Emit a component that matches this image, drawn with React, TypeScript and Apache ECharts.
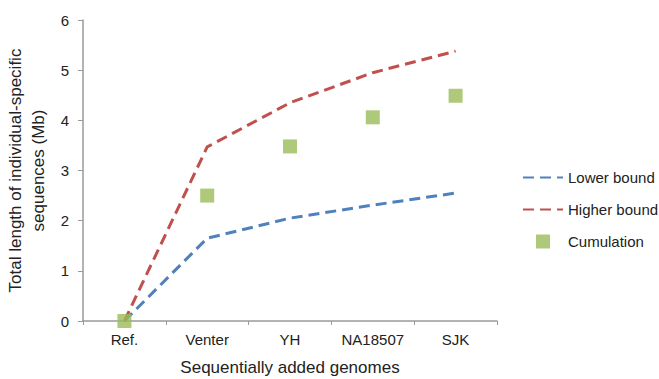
import React, { useEffect, useRef } from "react";
import * as echarts from "echarts";

const categories = ["Ref.", "Venter", "YH", "NA18507", "SJK"];
const lowerBound = [0, 1.65, 2.05, 2.31, 2.55];
const higherBound = [0, 3.47, 4.35, 4.95, 5.38];
const cumulation = [0, 2.5, 3.48, 4.06, 4.49];

const FONT = "'Liberation Sans', Arial, Helvetica, sans-serif";

export default function App() {
  const ref = useRef<HTMLDivElement>(null);
  useEffect(() => {
    document.body.style.margin = "0";
    document.body.style.overflow = "hidden";
    if (!ref.current) return;
    const chart = echarts.init(ref.current, undefined, { renderer: "svg" });
    chart.setOption({
      animation: false,
      backgroundColor: "#ffffff",
      textStyle: { fontFamily: FONT },
      grid: {
        left: 83,
        right: 162,
        top: 20,
        bottom: 58,
        containLabel: false,
        outerBoundsMode: "none",
      },
      legend: {
        orient: "vertical",
        left: 517,
        top: 165,
        itemWidth: 40,
        itemHeight: 14,
        itemGap: 17,
        textStyle: { fontSize: 15, color: "#222", fontFamily: FONT },
        data: [
          { name: "Lower bound", itemStyle: { opacity: 0 } },
          { name: "Higher bound", itemStyle: { opacity: 0 } },
          { name: "Cumulation", icon: "path://M0 0H10V10H0Z" },
        ],
      },
      xAxis: {
        type: "category",
        data: categories,
        boundaryGap: true,
        name: "Sequentially added genomes",
        nameLocation: "middle",
        nameGap: 38,
        nameTextStyle: { fontSize: 17, color: "#222", fontFamily: FONT },
        axisLine: { lineStyle: { color: "#9a9a9a", width: 1.5 } },
        axisTick: { show: true, length: 4, lineStyle: { color: "#9a9a9a" } },
        axisLabel: { fontSize: 15, color: "#222", margin: 11, fontFamily: FONT },
      },
      yAxis: {
        type: "value",
        min: 0,
        max: 6,
        interval: 1,
        name: "Total length of individual-specific\nsequences (Mb)",
        nameLocation: "middle",
        nameGap: 27,
        nameRotate: 90,
        nameTextStyle: { fontSize: 17, color: "#222", lineHeight: 23, fontFamily: FONT },
        axisLine: { show: true, lineStyle: { color: "#9a9a9a", width: 1.5 } },
        axisTick: { show: true, length: 5, lineStyle: { color: "#9a9a9a" } },
        splitLine: { show: false },
        axisLabel: { fontSize: 15, color: "#222", margin: 14, fontFamily: FONT },
      },
      series: [
        {
          name: "Lower bound",
          type: "line",
          data: lowerBound,
          symbol: "none",
          z: 2,
          lineStyle: { color: "#4f81bd", width: 3, type: [11, 6] },
          itemStyle: { color: "#4f81bd" },
        },
        {
          name: "Higher bound",
          type: "line",
          data: higherBound,
          symbol: "none",
          z: 2,
          lineStyle: { color: "#c0504d", width: 3, type: [11, 6] },
          itemStyle: { color: "#c0504d" },
        },
        {
          name: "Cumulation",
          type: "scatter",
          data: cumulation,
          symbol: "rect",
          symbolSize: 14,
          z: 3,
          itemStyle: { color: "#9bbb59" },
        },
      ],
    });
    return () => chart.dispose();
  }, []);
  return <div ref={ref} style={{ width: 659, height: 379 }} />;
}
